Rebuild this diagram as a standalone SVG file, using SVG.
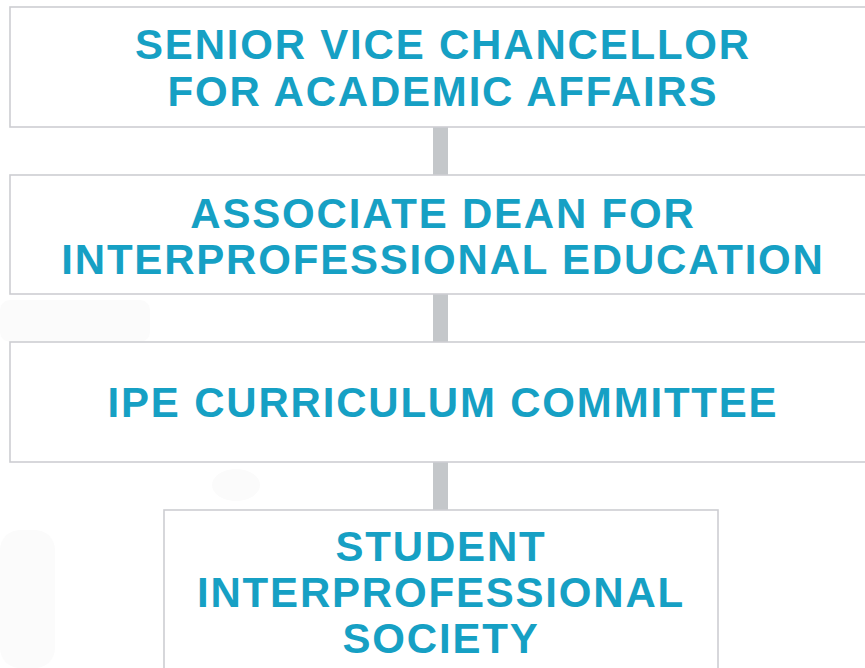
<svg xmlns="http://www.w3.org/2000/svg" width="865" height="668" viewBox="0 0 865 668">
<style>
.box{fill:#ffffff;stroke:#cdced2;stroke-width:1.6}
.t{font-family:"Liberation Sans",Arial,sans-serif;font-weight:bold;font-size:42px;fill:#16a0c4;text-anchor:middle;letter-spacing:1.8px}
.bar{fill:#c4c7ca}
.bg{fill:#fbfbfb}
</style>
<rect width="865" height="668" fill="#ffffff"/>
<g id="background">
<rect class="bg" x="0" y="300" width="150" height="42" rx="10"/>
<rect class="bg" x="0" y="530" width="55" height="138" rx="20"/>
<ellipse class="bg" cx="236" cy="485" rx="24" ry="16"/>
</g>
<g id="connectors">
<rect class="bar" x="433" y="127" width="15" height="48"/>
<rect class="bar" x="433" y="294" width="15" height="48"/>
<rect class="bar" x="433" y="462" width="15" height="48"/>
</g>
<g id="n1">
<rect class="box" x="10" y="7" width="870" height="120"/>
<text class="t" x="443" y="59">SENIOR VICE CHANCELLOR</text>
<text class="t" x="443" y="106">FOR ACADEMIC AFFAIRS</text>
</g>
<g id="n2">
<rect class="box" x="10" y="175" width="870" height="119"/>
<text class="t" x="443" y="228">ASSOCIATE DEAN FOR</text>
<text class="t" x="443" y="274">INTERPROFESSIONAL EDUCATION</text>
</g>
<g id="n3">
<rect class="box" x="10" y="342" width="870" height="120"/>
<text class="t" x="443" y="417">IPE CURRICULUM COMMITTEE</text>
</g>
<g id="n4">
<rect class="box" x="164" y="510" width="554" height="170"/>
<text class="t" x="441" y="561">STUDENT</text>
<text class="t" x="441" y="607">INTERPROFESSIONAL</text>
<text class="t" x="441" y="653">SOCIETY</text>
</g>
</svg>
